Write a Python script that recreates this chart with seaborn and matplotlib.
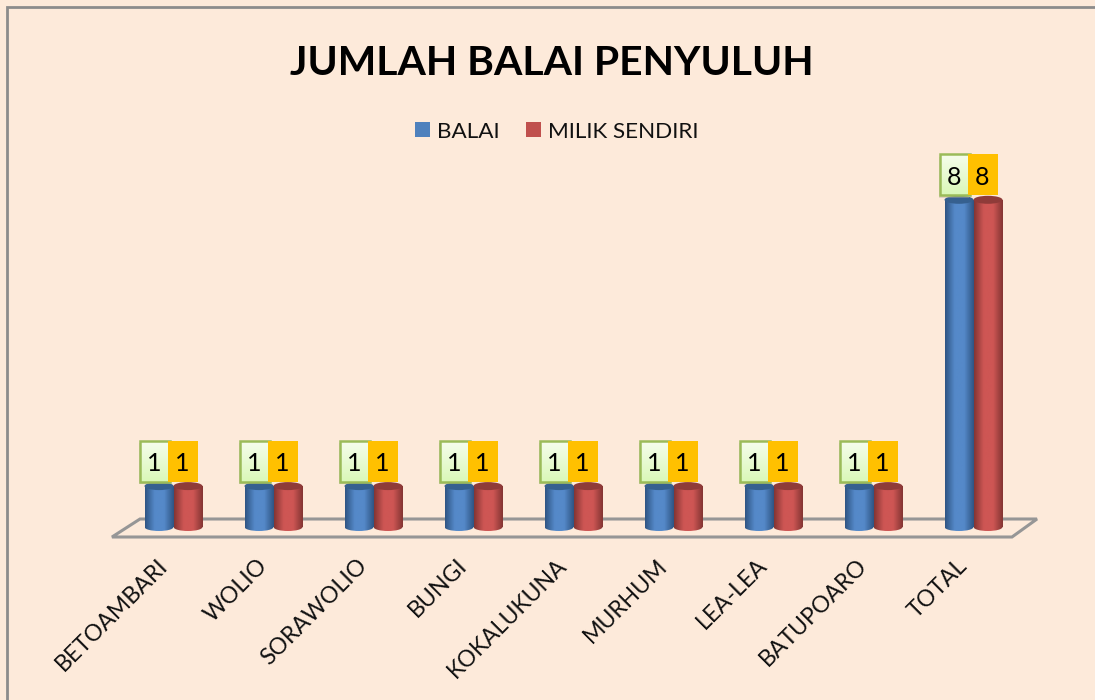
import numpy as np
import pandas as pd
import seaborn as sns
import matplotlib.pyplot as plt
from matplotlib.patches import Rectangle, Ellipse, Polygon
from matplotlib.colors import LinearSegmentedColormap
from matplotlib.transforms import ScaledTranslation

sns.set_style("white")
plt.rcParams['font.family'] = ['Lato', 'DejaVu Sans']

kelurahan = ['BETOAMBARI', 'WOLIO', 'SORAWOLIO', 'BUNGI', 'KOKALUKUNA', 'MURHUM', 'LEA-LEA', 'BATUPOARO', 'TOTAL']
balai = [1, 1, 1, 1, 1, 1, 1, 1, 8]
milik_sendiri = [1, 1, 1, 1, 1, 1, 1, 1, 8]
series_names = ['BALAI', 'MILIK SENDIRI']

W, H = 1095, 700
BG = '#FDEADA'
blue = '#4F81BD'
red = '#C0504D'
UNIT = 40.9  # pixels per unit on the value axis

df = pd.DataFrame({'kelurahan': kelurahan * 2,
                   'nilai': balai + milik_sendiri,
                   'seri': [series_names[0]] * 9 + [series_names[1]] * 9})

fig = plt.figure(figsize=(W / 100, H / 100), dpi=100, facecolor=BG)
# plot area in reference pixels
ax = fig.add_axes([123.5 / W, 1 - 527 / H, 900 / W, 9 * UNIT / H])
ax.patch.set_alpha(0)

sns.barplot(data=df, x='kelurahan', y='nilai', hue='seri', order=kelurahan, hue_order=series_names,
            palette=[blue, red], width=0.58, gap=0, legend=False, ax=ax, zorder=3)
ax.set_xlim(-0.5, 8.5)
ax.set_ylim(0, 9)
ax.set_xlabel('')
ax.set_ylabel('')
ax.set_yticks([])
sns.despine(ax=ax, left=True, bottom=True)

ax.set_xticks(range(len(kelurahan)))
ax.set_xticklabels(kelurahan, rotation=45, ha='right', va='top', rotation_mode='anchor', fontsize=16.6, color='#111111')
ax.tick_params(axis='x', length=0, pad=20)
for lab in ax.get_xticklabels():
    lab.set_transform(lab.get_transform() + ScaledTranslation(-17 / 100, 0, fig.dpi_scale_trans))

# floor of the fake 3d chart, given in pixels
floor = Polygon([(112 / W, 1 - 537 / H), (140 / W, 1 - 519 / H), (1037 / W, 1 - 519 / H), (1012 / W, 1 - 537 / H)],
                closed=True, transform=fig.transFigure, fill=False, edgecolor='#969696', lw=2.2, zorder=-1)
fig.add_artist(floor)

ell_h = 8 / UNIT  # ellipse height in data units


def shade(base, dark):
    return LinearSegmentedColormap.from_list('c', [dark, base, base, dark], N=128)


cmaps = {0: shade('#5589C9', '#2F5583'), 1: shade('#CE5654', '#843533')}
tops = {0: '#36608F', 1: '#8F3B39'}
green_box = LinearSegmentedColormap.from_list('g', ['#F6FDEC', '#DAF8B8'])

bars = [p for p in ax.patches if isinstance(p, Rectangle)]
n = len(kelurahan)
for i, p in enumerate(bars[:2 * n]):
    s = i // n
    x0, w, h = p.get_x(), p.get_width(), p.get_height()
    p.set_visible(False)
    # cylinder body: horizontal gradient clipped to the body, then to the bottom ellipse
    grad = np.linspace(0, 1, 64).reshape(1, -1)
    body = Rectangle((x0, 0), w, h, transform=ax.transData)
    bottom = Ellipse((x0 + w / 2, 0), w, ell_h, facecolor='none', edgecolor='none', zorder=3.4, clip_on=False)
    ax.add_patch(bottom)
    im = ax.imshow(grad, cmap=cmaps[s], extent=(x0, x0 + w, 0, h), aspect='auto', zorder=3.5)
    im.set_clip_path(body)
    im2 = ax.imshow(grad, cmap=cmaps[s], extent=(x0, x0 + w, -ell_h, 0), aspect='auto', zorder=3.5)
    im2.set_clip_path(bottom)
    im2.set_clip_box(fig.bbox)  # lies below the axes box, would be cut off otherwise
    ax.add_patch(Ellipse((x0 + w / 2, h), w, ell_h, facecolor=tops[s], edgecolor='none', zorder=3.6, clip_on=False))

    # value box above each cylinder
    bw = 0.30
    bh = 41 / UNIT
    by = h + 4.5 / UNIT
    if s == 0:
        bx = x0 - 0.05
        ax.add_patch(Rectangle((bx - 0.008, by - 0.07), bw, bh, facecolor='#B9AE9F', edgecolor='none', alpha=0.4, zorder=3.9, clip_on=False))
        g = ax.imshow(np.linspace(0, 1, 32).reshape(-1, 1), cmap=green_box, extent=(bx, bx + bw, by, by + bh),
                      origin='upper', aspect='auto', zorder=4)
        g.set_clip_on(False)
        ax.add_patch(Rectangle((bx, by), bw, bh, facecolor='none', edgecolor='#9BBB59', lw=1.8, zorder=4.1, clip_on=False))
    else:
        bx = x0 - 0.055
        ax.add_patch(Rectangle((bx, by), bw, bh, facecolor='#FFC000', edgecolor='none', zorder=4.2, clip_on=False))
    ax.text(bx + 0.145, by + bh / 2 - 0.06, str(int(h)), ha='center', va='center', fontsize=18, color='black', zorder=5, clip_on=False)

ax.set_xlim(-0.5, 8.5)
ax.set_ylim(0, 9)

fig.text(552 / W, 1 - 63.5 / H, 'JUMLAH BALAI PENYULUH', ha='center', va='center', fontsize=29.4, fontweight='bold', color='black')

# legend, as in the reference: square + text
ax_leg = [(415, blue, series_names[0], 437), (526, red, series_names[1], 548)]
for xs, col, name, xt in ax_leg:
    fig.add_artist(Rectangle((xs / W, 1 - 137 / H), 15 / W, 15 / H, transform=fig.transFigure, facecolor=col, edgecolor='none'))
    fig.text(xt / W, 1 - 131.5 / H, name, ha='left', va='center', fontsize=16.2, color='#111111')

fig.add_artist(Rectangle((7 / W, -0.01), 1.02, 1 - 7 / H + 0.01, transform=fig.transFigure, fill=False, edgecolor='#8C8C8C', lw=2))

fig.savefig('out.png', dpi=100, facecolor=BG)
